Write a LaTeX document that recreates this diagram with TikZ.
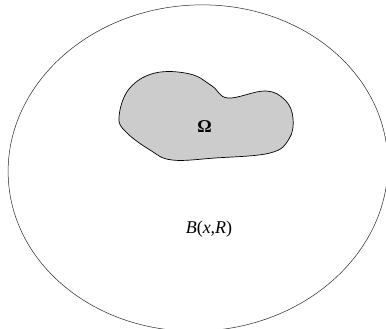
\documentclass[tikz,border=0pt]{standalone}
\usepackage{fontspec}
\setmainfont{Liberation Serif}
\usetikzlibrary{positioning}

\begin{document}
\begin{tikzpicture}[x=1pt, y=-1pt,
  ballline/.style={black!85, line width=0.5pt},
  blob/.style={fill=black!20, draw=black, line width=0.7pt},
  lbl/.style={font=\fontsize{18}{21}\selectfont, inner sep=0pt}]

\useasboundingbox (0,0) rectangle (386,329);

% the ball
\draw[ballline] (198,168) ellipse [x radius=190, y radius=163, rotate=4];

% the domain
\draw[blob] plot[smooth cycle, tension=0.65] coordinates {
  (119,117) (129,89) (155,73) (190,74) (212,86) (228,98)
  (265,91) (285,100) (293,118) (289,139) (270,153)
  (215,158) (172,160) (150,150) (126,132)};

\node[lbl] (omega) at (204.5,127) {\textbf{Ω}};
\node[lbl] (ball) at (209,229) {\textit{B}(\textit{x},\textit{R})};

\end{tikzpicture}
\end{document}
